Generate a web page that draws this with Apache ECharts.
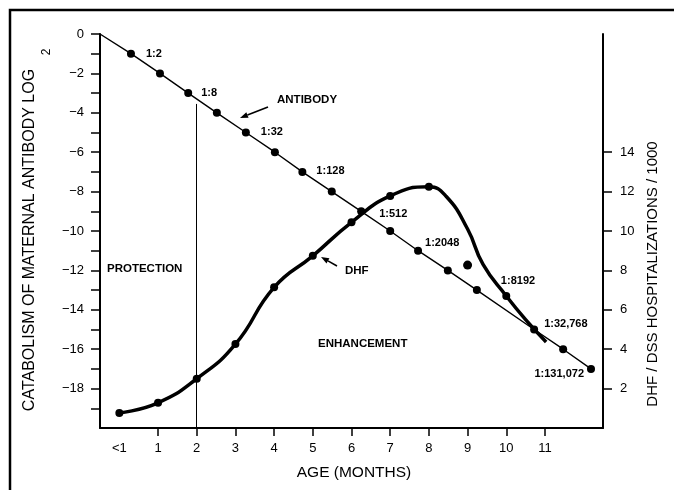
<!DOCTYPE html>
<html>
<head>
<meta charset="utf-8">
<script src="https://cdn.jsdelivr.net/npm/echarts@6/dist/echarts.min.js"></script>
<style>
  html, body { margin: 0; padding: 0; background: #fff; }
  #main { width: 674px; height: 490px; }
</style>
</head>
<body>
<div id="main"></div>
<script>
// maternal antibody, log2 titer by age (months)
var abMonths = [0.3, 1.05, 1.78, 2.52, 3.27, 4.02, 4.73, 5.49, 6.25, 7.0, 7.72, 8.49, 9.24, 10.72, 11.47, 12.19];
var abLog2   = [-1, -2, -3, -4, -5, -6, -7, -8, -9, -10, -11, -12, -13, -15, -16, -17];
var titers   = ['1:2', '', '1:8', '', '1:32', '', '1:128', '', '1:512', '', '1:2048', '', '1:8192', '1:32,768', '', '1:131,072'];

// DHF / DSS hospitalizations per 1000 (dot = plotted point, 0 = curve only)
var dhfMonths = [0, 1, 2, 3, 4, 5, 6, 7, 8, 8.45, 9.0, 9.4, 10, 10.5, 11.03];
var dhfRates  = [0.76, 1.28, 2.5, 4.26, 7.14, 8.74, 10.44, 11.78, 12.24, 11.75, 10.1, 8.3, 6.7, 5.5, 4.37];
var dhfDot    = [1, 1, 1, 1, 1, 1, 1, 1, 1, 0, 0, 0, 1, 0, 0];
// stray point off the curve
var extraDot = [[9.0, 8.27]];

var monthTicks = [0, 1, 2, 3, 4, 5, 6, 7, 8, 9, 10, 11];
var leftLabels = [0, -2, -4, -6, -8, -10, -12, -14, -16, -18];
var rightLabels = [2, 4, 6, 8, 10, 12, 14];

var chart = echarts.init(document.getElementById('main'));

// label placement for the titer notes (left edge / middle offsets)
var titerPos = {
    '1:2': [15, 0], '1:8': [13, 0], '1:32': [15, -1], '1:128': [14, -1],
    '1:512': [18, 3], '1:2048': [7, -8], '1:8192': [24, -9], '1:32,768': [10, -6]
};

var abData = [{ value: [-0.5, 0], symbol: 'none' }];
abMonths.forEach(function (m, i) {
    var item = { value: [m, abLog2[i]] };
    var t = titers[i];
    if (t) {
        if (titerPos[t]) {
            item.label = { show: true, formatter: t, position: 'right', distance: 0, align: 'left',
                verticalAlign: 'middle', offset: [titerPos[t][0] - 4, titerPos[t][1]] };
        } else {
            item.label = { show: true, formatter: t, position: 'left', distance: 0, align: 'right',
                verticalAlign: 'middle', offset: [-3, 5] };
        }
    }
    abData.push(item);
});

var dhfData = dhfMonths.map(function (m, i) {
    return dhfDot[i] ? { value: [m, dhfRates[i]] } : { value: [m, dhfRates[i]], symbol: 'none' };
});

var noteFont = 'bold 11.5px "Liberation Sans"';

function arrow(x1, y1, x2, y2) {
    var dx = x2 - x1, dy = y2 - y1, len = Math.sqrt(dx * dx + dy * dy);
    var ux = dx / len, uy = dy / len, bx = x2 - 8 * ux, by = y2 - 8 * uy;
    return [
        { type: 'line', shape: { x1: x1, y1: y1, x2: bx, y2: by }, style: { stroke: '#000', lineWidth: 1.6 } },
        { type: 'polygon', shape: { points: [[x2, y2], [bx - 3 * uy, by + 3 * ux], [bx + 3 * uy, by - 3 * ux]] },
          style: { fill: '#000' } }
    ];
}

function note(x, y, txt, font, align) {
    return { type: 'text', x: x, y: y,
        style: { text: txt, font: font, fill: '#000', textAlign: align || 'left', textVerticalAlign: 'middle' } };
}

var graphics = [
    { type: 'rect', shape: { x: 10, y: 10, width: 700, height: 520 }, style: { fill: 'none', stroke: '#000', lineWidth: 2.5 } },
    { type: 'text', x: 30, y: 240, rotation: Math.PI / 2,
      style: { text: 'CATABOLISM OF MATERNAL ANTIBODY LOG', font: '16px "Liberation Sans"', fill: '#000',
               textAlign: 'center', textVerticalAlign: 'middle' } },
    { type: 'text', x: 47, y: 52, rotation: Math.PI / 2,
      style: { text: '2', font: '12px "Liberation Sans"', fill: '#000', textAlign: 'center', textVerticalAlign: 'middle' } },
    { type: 'text', x: 653, y: 274, rotation: Math.PI / 2,
      style: { text: 'DHF / DSS HOSPITALIZATIONS / 1000', font: '15px "Liberation Sans"', fill: '#000',
               textAlign: 'center', textVerticalAlign: 'middle' } },
    { type: 'text', x: 354, y: 473,
      style: { text: 'AGE (MONTHS)', font: '15.5px "Liberation Sans"', fill: '#000', textAlign: 'center', textVerticalAlign: 'middle' } },
    note(277, 100, 'ANTIBODY', noteFont),
    note(345, 271, 'DHF', noteFont),
    note(107, 269, 'PROTECTION', noteFont),
    note(318, 344, 'ENHANCEMENT', noteFont)
].concat(arrow(268, 107, 240, 118)).concat(arrow(337, 266, 321, 257));

var option = {
    animation: false,
    backgroundColor: '#fff',
    grid: { left: 100, right: 71, top: 34, bottom: 62 },
    xAxis: {
        type: 'value', min: -0.5, max: 12.5,
        splitLine: { show: false },
        axisLine: { onZero: false, lineStyle: { color: '#000', width: 2 } },
        axisTick: { customValues: monthTicks.slice(1), length: 8, lineStyle: { color: '#000', width: 1.5 } },
        axisLabel: { customValues: monthTicks, margin: 14, formatter: function (v) { return v === 0 ? '<1' : String(v); },
                     color: '#000', fontSize: 13, fontFamily: 'Liberation Sans' }
    },
    yAxis: [{
        type: 'value', min: -20, max: 0, position: 'left',
        splitLine: { show: false },
        axisLine: { onZero: false, lineStyle: { color: '#000', width: 2 } },
        axisTick: { customValues: [0, -1, -2, -3, -4, -5, -6, -7, -8, -9, -10, -11, -12, -13, -14, -15, -16, -17, -18, -19],
                    length: 9, lineStyle: { color: '#000', width: 1.5 } },
        axisLabel: { customValues: leftLabels, margin: 16, formatter: function (v) { return v === 0 ? '0' : '\u2212' + Math.abs(v); },
                     color: '#000', fontSize: 13, fontFamily: 'Liberation Sans' }
    }, {
        type: 'value', min: 0, max: 20, position: 'right',
        splitLine: { show: false },
        axisLine: { show: true, onZero: false, lineStyle: { color: '#000', width: 2 } },
        axisTick: { show: true, customValues: rightLabels, length: 9, lineStyle: { color: '#000', width: 1.5 } },
        axisLabel: { customValues: rightLabels, margin: 17, color: '#000', fontSize: 13, fontFamily: 'Liberation Sans' }
    }],
    series: [{
        name: 'ANTIBODY', type: 'line', yAxisIndex: 0,
        data: abData,
        symbol: 'circle', symbolSize: 8, showAllSymbol: true,
        itemStyle: { color: '#000' },
        lineStyle: { color: '#000', width: 1.4 },
        label: { color: '#000', fontSize: 11, fontWeight: 'bold', fontFamily: 'Liberation Sans' },
        markLine: {
            silent: true, symbol: ['none', 'none'], label: { show: false },
            lineStyle: { color: '#000', width: 1, type: 'solid' },
            data: [[{ coord: [2, -3.55] }, { coord: [2, -20] }]]
        },
        z: 3
    }, {
        name: 'DHF', type: 'line', yAxisIndex: 1,
        data: dhfData,
        smooth: 0.5,
        symbol: 'circle', symbolSize: 8, showAllSymbol: true,
        itemStyle: { color: '#000' },
        lineStyle: { color: '#000', width: 3.5 },
        z: 4
    }, {
        name: 'DHF point', type: 'scatter', yAxisIndex: 1,
        data: extraDot, symbolSize: 9,
        itemStyle: { color: '#000', opacity: 1 }
    }],
    graphic: graphics
};

chart.setOption(option);
</script>
</body>
</html>
